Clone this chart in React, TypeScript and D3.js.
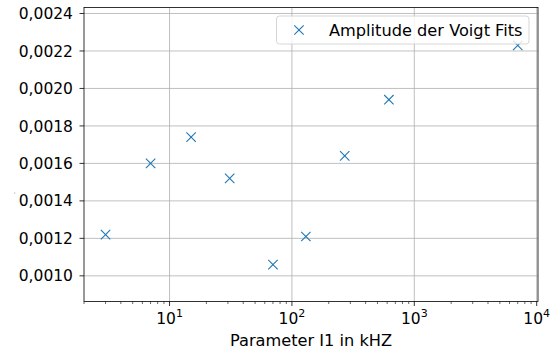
import React from "react";
import * as d3 from "d3";

const xValues = [3, 7, 15, 31, 70, 130, 270, 620, 7000];
const yValues = [0.00122, 0.0016, 0.00174, 0.00152, 0.00106, 0.00121, 0.00164, 0.00194, 0.00223];
const yTicks = [0.001, 0.0012, 0.0014, 0.0016, 0.0018, 0.002, 0.0022, 0.0024];
const xTicks = [10, 100, 1000, 10000];
const seriesLabel = "Amplitude der Voigt Fits";
const xLabel = "Parameter I1 in kHZ";
const yLabel = ".";

const W = 553, H = 351;
const left = 84, right = 538, top = 7.5, bottom = 301.5;
const font = "'DejaVu Sans', sans-serif";
const blue = "#1f77b4";
const fs = 15.5;
const fsLabel = 16.2;

export default function App() {
  const x = d3.scaleLog().domain([2.0, 10250]).range([left, right]);
  const y = d3.scaleLinear().domain([0.000863, 0.002432]).range([bottom, top]);
  const minor: number[] = [];
  for (let d = 0; d < 5; d++) {
    for (let m = 2; m <= 9; m++) {
      const v = m * Math.pow(10, d);
      if (v >= 2.0 && v <= 10250) minor.push(v);
    }
  }
  const fmt = (v: number) => v.toFixed(4).replace(".", ",");
  const ms = 4.7;
  return (
    <svg width={W} height={H} style={{ position: "absolute", left: 0, top: 0, fontFamily: font }}>
      <rect width={W} height={H} fill="white" />
      {xTicks.map((t) => (
        <line key={"gx" + t} x1={x(t)} x2={x(t)} y1={top} y2={bottom} stroke="#b0b0b0" strokeWidth={0.8} />
      ))}
      {yTicks.map((t) => (
        <line key={"gy" + t} x1={left} x2={right} y1={y(t)} y2={y(t)} stroke="#b0b0b0" strokeWidth={0.8} />
      ))}
      {xValues.map((v, i) => {
        const cx = x(v), cy = y(yValues[i]);
        return (
          <g key={"m" + i} stroke={blue} strokeWidth={1.1}>
            <line x1={cx - ms} y1={cy - ms} x2={cx + ms} y2={cy + ms} />
            <line x1={cx - ms} y1={cy + ms} x2={cx + ms} y2={cy - ms} />
          </g>
        );
      })}
      <rect x={left} y={top} width={right - left} height={bottom - top} fill="none" stroke="black" strokeWidth={0.8} />
      {yTicks.map((t) => (
        <g key={"ty" + t}>
          <line x1={left - 4.5} x2={left} y1={y(t)} y2={y(t)} stroke="black" strokeWidth={0.8} />
          <text x={left - 11} y={y(t)} dy="0.36em" textAnchor="end" fontSize={fs}>{fmt(t)}</text>
        </g>
      ))}
      {minor.map((t) => (
        <line key={"mx" + t} x1={x(t)} x2={x(t)} y1={bottom} y2={bottom + 2.5} stroke="black" strokeWidth={0.6} />
      ))}
      {xTicks.map((t) => (
        <g key={"tx" + t}>
          <line x1={x(t)} x2={x(t)} y1={bottom} y2={bottom + 4.5} stroke="black" strokeWidth={0.8} />
          <text x={x(t)} y={bottom + 22} textAnchor="middle" fontSize={fs}>
            10<tspan dy={-7} fontSize={11}>{Math.round(Math.log10(t))}</tspan>
          </text>
        </g>
      ))}
      <text x={(left + right) / 2} y={346} textAnchor="middle" fontSize={fsLabel}>{xLabel}</text>
      <text transform={`translate(15,193) rotate(-90)`} textAnchor="middle" fontSize={6}>{yLabel}</text>
      <g>
        <rect x={276.5} y={16} width={252.5} height={28} rx={3} fill="white" fillOpacity={0.8} stroke="#cccccc" strokeWidth={0.8} />
        <g stroke={blue} strokeWidth={1.1}>
          <line x1={299 - ms} y1={30 - ms} x2={299 + ms} y2={30 + ms} />
          <line x1={299 - ms} y1={30 + ms} x2={299 + ms} y2={30 - ms} />
        </g>
        <text x={329} y={30} dy="0.36em" fontSize={fsLabel}>{seriesLabel}</text>
      </g>
    </svg>
  );
}
